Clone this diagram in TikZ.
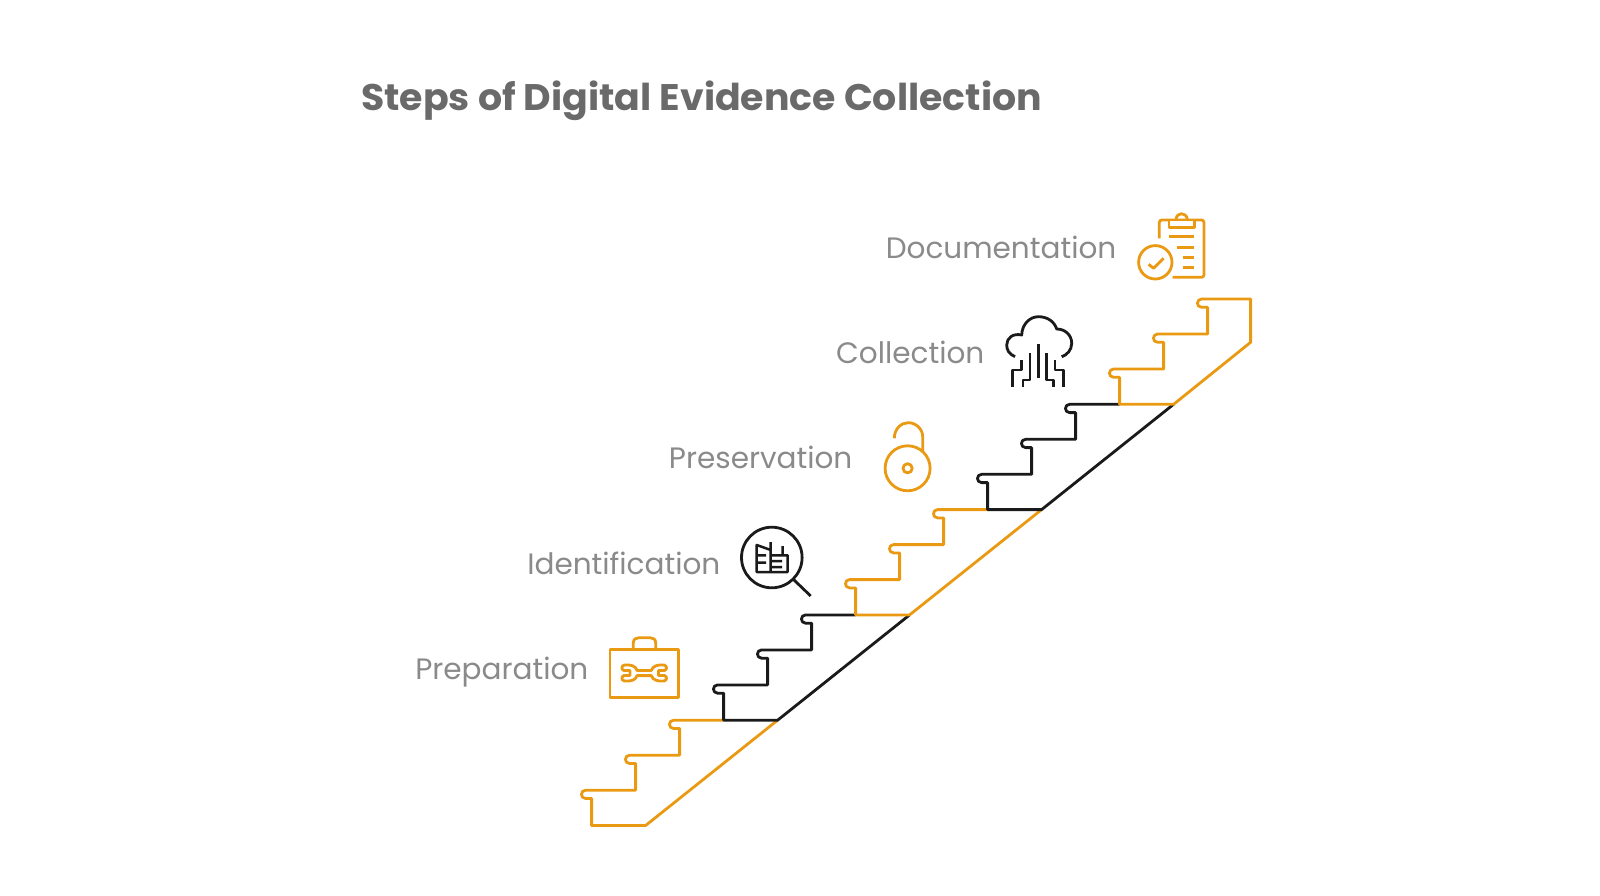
\documentclass[tikz,border=0pt]{standalone}
\usepackage{fontspec}
\setmainfont{Poppins}
\definecolor{stairorange}{HTML}{EA9A12}
\definecolor{stairblack}{HTML}{1A1A1A}
\definecolor{titlegray}{HTML}{6A6A6A}
\definecolor{labelgray}{HTML}{8A8A8A}
\newcommand{\stairsteps}{(0,0) -- (0,-27) -- (-6,-27) .. controls (-11.5,-27) and (-11.5,-35.3) .. (-6,-35.3) -- (44,-35.3) -- (44,-62) -- (38,-62) .. controls (32.5,-62) and (32.5,-70.3) .. (38,-70.3) -- (88,-70.3) -- (88,-97) -- (82,-97) .. controls (76.5,-97) and (76.5,-105.3) .. (82,-105.3)}
\tikzset{
	orangeline/.style={draw=stairorange,line width=2.8pt,line join=round},
	blackline/.style={draw=stairblack,line width=2.8pt,line join=round},
	titlelabel/.style={anchor=base west,inner sep=0pt,text=titlegray,font=\fontsize{37}{41}\selectfont\bfseries\addfontfeatures{FakeStretch=1.024}},
	steplabel/.style={anchor=base east,inner sep=0pt,text=labelgray,font=\fontsize{29.5}{34}\selectfont}
}
\begin{document}
\begin{tikzpicture}[x=1pt,y=-1pt]
	\useasboundingbox (0,0) rectangle (1600,896);
	\node (title) [titlelabel] at (361,111) {Steps of Digital Evidence Collection};
	\node (prep) [steplabel] at (588.5,679.5) {Preparation};
	\node (iden) [steplabel] at ([shift={(132,-105.3)}]prep.base east) {Identification};
	\node (pres) [steplabel] at ([shift={(132,-105.3)}]iden.base east) {Preservation};
	\node (coll) [steplabel] at ([shift={(132,-105.3)}]pres.base east) {Collection};
	\node (docu) [steplabel] at ([shift={(132,-105.3)}]coll.base east) {Documentation};
	\draw [orangeline,shift={(591.6,825.5)}] (186,-105.3) -- (54,0) -- \stairsteps -- (132,-105.3);
	\draw [blackline,shift={(723.6,720.2)}] (186,-105.3) -- (54,0) -- \stairsteps -- (132,-105.3);
	\draw [orangeline,shift={(855.6,614.9)}] (186,-105.3) -- (54,0) -- \stairsteps -- (132,-105.3);
	\draw [blackline,shift={(987.6,509.6)}] (186,-105.3) -- (54,0) -- \stairsteps -- (132,-105.3);
	\draw [orangeline,shift={(1119.6,404.3)}] (131,-62) -- (54,0) -- \stairsteps -- (131,-105.3) -- cycle;
	\draw [orangeline] (610,649.3) rectangle (678.3,697.5);
	\draw [orangeline] (633.3,649.3) -- (633.3,643) .. controls (633.3,639) and (636,637.7) .. (639,637.7) -- (650,637.7) .. controls (653,637.7) and (655.7,639) .. (655.7,643) -- (655.7,649.3);
	\draw [orangeline] (637,670.4) -- (651.4,670.4) .. controls (652.4,666) and (658,664.3) .. (664,665) .. controls (667,665.5) and (667.5,669.5) .. (664.5,670.5) -- (658.5,670.5) -- (658.5,675.5) -- (664.5,675.5) .. controls (667.5,676.5) and (667,680.5) .. (664,681) .. controls (658,681.7) and (652.4,680) .. (651.4,675.6) -- (637,675.6) .. controls (636,680) and (630.4,681.7) .. (624.4,681) .. controls (621.4,680.5) and (620.9,676.5) .. (623.9,675.5) -- (629.9,675.5) -- (629.9,670.5) -- (623.9,670.5) .. controls (620.9,669.5) and (621.4,665.5) .. (624.4,665) .. controls (630.4,664.3) and (636,666) .. (637,670.4) -- cycle;
	\draw [blackline] (771.8,557.5) circle (30.3);
	\draw [blackline] (793.3,579.3) -- (810.7,596);
	\draw [blackline,line width=2.5pt] (770.7,555.3) -- (770.7,542) (770.7,550) -- (756.7,545) -- (756.7,572) -- (787.7,572) -- (787.7,555.3) -- (770.7,555.3) -- (770.7,572) (782.7,555.3) -- (782.7,546) (756.7,555.3) -- (766,555.3) (756.7,562.7) -- (766,562.7) (772,561) -- (782,561) (772,567) -- (782,567);
	\draw [orangeline] (907.6,468.3) circle (22.5);
	\draw [orangeline] (907.6,468.3) circle (4.6);
	\draw [orangeline] (894.3,438.3) .. controls (894.3,429) and (901,422.7) .. (908.3,422.7) .. controls (916,422.7) and (922.7,429) .. (922.7,437) -- (922.7,452);
	\draw [blackline] (1015,356.7) .. controls (1009,354) and (1006.7,350) .. (1006.7,345) .. controls (1006.7,338) and (1013,333) .. (1021.7,335) .. controls (1022,324) and (1030,316.7) .. (1038.3,316.7) .. controls (1047,316.7) and (1054,321) .. (1056.7,329) .. controls (1065,329) and (1071.7,335) .. (1071.7,343.3) .. controls (1071.7,350) and (1067,355) .. (1061.7,356.7);
	\draw [blackline,line width=2.5pt] (1038.3,344.3) -- (1038.3,378.3);
	\draw [blackline,line width=2.5pt] (1030,353.3) -- (1030,380) -- (1023,380) -- (1023,387.3);
	\draw [blackline,line width=2.5pt] (1021.7,360) -- (1021.7,370) -- (1012.7,370) -- (1012.7,387.3);
	\draw [blackline,line width=2.5pt] (1046.7,353.3) -- (1046.7,380) -- (1053.3,380) -- (1053.3,387.3);
	\draw [blackline,line width=2.5pt] (1055,360) -- (1055,370) -- (1063.3,370) -- (1063.3,387.3);
	\draw [orangeline,rounded corners=2.5pt] (1159.3,238.3) -- (1159.3,220) -- (1204,220) -- (1204,277.3) -- (1172.7,277.3);
	\draw [orangeline,fill=white] (1169,220) rectangle (1194.3,227.3);
	\draw [orangeline] (1176,219) .. controls (1177,212) and (1186,212) .. (1187.3,219);
	\draw [orangeline] (1169,236.7) -- (1194,236.7) (1176.7,247.3) -- (1194,247.3) (1182.7,257.3) -- (1194,257.3) (1182.7,267.3) -- (1194,267.3);
	\draw [orangeline] (1155.3,262.3) circle (16.7);
	\draw [orangeline] (1148.6,264.3) -- (1153.6,268.3) -- (1163.6,258.3);
\end{tikzpicture}
\end{document}
